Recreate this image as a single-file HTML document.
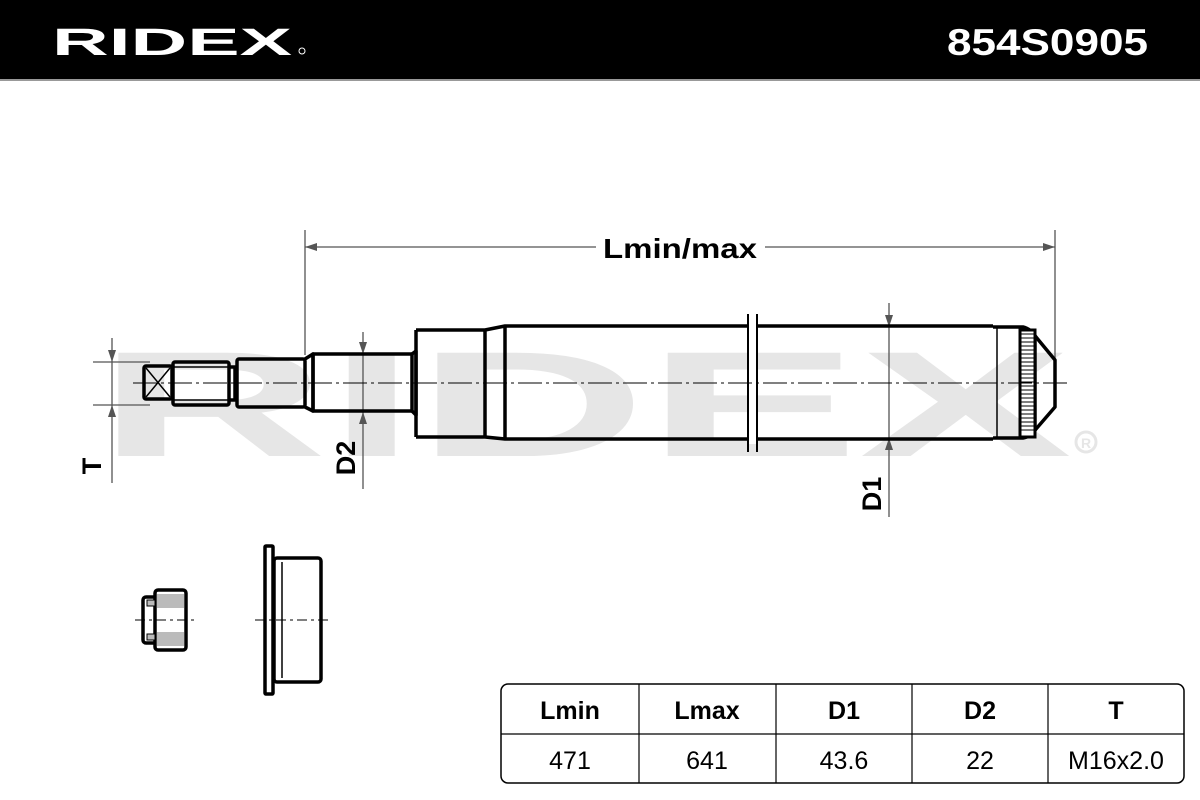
<!DOCTYPE html>
<html><head><meta charset="utf-8"><style>
html,body{margin:0;padding:0;background:#fff;}
svg{display:block;}
text{font-family:"Liberation Sans",sans-serif;}
</style></head><body>
<svg width="1200" height="800" viewBox="0 0 1200 800" xmlns="http://www.w3.org/2000/svg">
<rect x="0" y="0" width="1200" height="80" fill="#000"/>
<rect x="0" y="79" width="1200" height="2" fill="#999"/>
<text x="52" y="55" fill="#fff" font-size="38" font-weight="bold" textLength="240" lengthAdjust="spacingAndGlyphs">RIDEX</text>
<circle cx="302" cy="51" r="3" fill="none" stroke="#fff" stroke-width="1"/>
<text x="947" y="55" fill="#fff" font-size="37" font-weight="bold" textLength="201" lengthAdjust="spacingAndGlyphs">854S0905</text>

<!-- watermark -->
<text x="97" y="456" fill="#e6e6e6" font-size="150" font-weight="bold" textLength="975" lengthAdjust="spacingAndGlyphs">RIDEX</text>
<circle cx="1086" cy="442" r="10" fill="none" stroke="#e6e6e6" stroke-width="3"/>
<text x="1086" y="448" fill="#e6e6e6" font-size="14" font-weight="bold" text-anchor="middle">R</text>

<g stroke="#555" stroke-width="1.3" fill="#555">
<line x1="305" y1="230" x2="305" y2="355"/>
<line x1="1055" y1="230" x2="1055" y2="365"/>
<line x1="305" y1="247" x2="596" y2="247"/>
<line x1="765" y1="247" x2="1055" y2="247"/>
<path d="M305 247 l12 -4 v8z" stroke="none"/>
<path d="M1055 247 l-12 -4 v8z" stroke="none"/>
<line x1="93" y1="362" x2="150" y2="362"/>
<line x1="93" y1="405" x2="150" y2="405"/>
<line x1="112" y1="338" x2="112" y2="483"/>
<path d="M112 362 l-4 -12 h8z" stroke="none"/>
<path d="M112 405 l-4 12 h8z" stroke="none"/>
<line x1="363" y1="332" x2="363" y2="489"/>
<path d="M363 354 l-4 -12 h8z" stroke="none"/>
<path d="M363 412 l-4 12 h8z" stroke="none"/>
<line x1="889" y1="303" x2="889" y2="517"/>
<path d="M889 327 l-4 -12 h8z" stroke="none"/>
<path d="M889 438 l-4 12 h8z" stroke="none"/>
</g>
<text x="680" y="258" font-size="28" font-weight="bold" text-anchor="middle" textLength="154" lengthAdjust="spacingAndGlyphs">Lmin/max</text>
<text transform="translate(101,466) rotate(-90)" font-size="27" font-weight="bold" text-anchor="middle">T</text>
<text transform="translate(355,458) rotate(-90)" font-size="27" font-weight="bold" text-anchor="middle">D2</text>
<text transform="translate(881,494) rotate(-90)" font-size="27" font-weight="bold" text-anchor="middle">D1</text>

<g stroke="#000" stroke-width="3.5" fill="none" stroke-linejoin="round">
<rect x="144" y="366" width="28" height="33" rx="2"/>
<rect x="173" y="362" width="56" height="43" rx="2"/>
<path d="M229 367 h6 v33 h-6"/>
<rect x="237" y="359" width="68" height="48" rx="2"/>
<path d="M305 359 l8 -5 v57 l-8 -4"/>
<rect x="313" y="354" width="99" height="57"/>
<path d="M412 354 l4 -3 v64 l-4 -4"/>
<path d="M416 330 h69 l20 -4 h488 M416 437 h69 l20 2 h488"/>
<line x1="416" y1="330" x2="416" y2="437"/>
<line x1="485" y1="330" x2="485" y2="437"/>
<line x1="505" y1="326" x2="505" y2="439"/>
<path d="M993 327 h30 q8 2 13 10 l19 23 v47 l-19 22 q-5 8 -13 9 h-30"/>
</g>
<g stroke="#000" stroke-width="1.5" fill="none">
<line x1="146" y1="368" x2="170" y2="397"/><line x1="170" y1="368" x2="146" y2="397"/>
<line x1="173" y1="367" x2="229" y2="367"/><line x1="173" y1="400" x2="229" y2="400"/>
<line x1="997" y1="328" x2="997" y2="438"/>
<line x1="1036" y1="337" x2="1036" y2="429"/>
</g>
<rect x="1020" y="330" width="15" height="107" fill="#fff" stroke="#000" stroke-width="3"/>
<g stroke="#000" stroke-width="1">
<path d="M1020 334 h15 M1020 338 h15 M1020 342 h15 M1020 346 h15 M1020 350 h15 M1020 354 h15 M1020 358 h15 M1020 362 h15 M1020 366 h15 M1020 370 h15 M1020 374 h15 M1020 378 h15 M1020 382 h15 M1020 386 h15 M1020 390 h15 M1020 394 h15 M1020 398 h15 M1020 402 h15 M1020 406 h15 M1020 410 h15 M1020 414 h15 M1020 418 h15 M1020 422 h15 M1020 426 h15 M1020 430 h15"/>
</g>
<rect x="749" y="322" width="7" height="122" fill="#fff"/>
<line x1="748" y1="314" x2="748" y2="452" stroke="#000" stroke-width="2"/>
<line x1="757" y1="314" x2="757" y2="452" stroke="#000" stroke-width="2"/>
<line x1="133" y1="383" x2="1067" y2="383" stroke="#000" stroke-width="1" stroke-dasharray="24,4,3,4"/>

<g stroke="#000" stroke-width="3.5" fill="#fff" stroke-linejoin="round">
<rect x="143" y="597" width="14" height="46" rx="3"/>
<rect x="155" y="590" width="31" height="60" rx="3"/>
</g>
<rect x="157" y="594" width="27" height="14" fill="#bbb"/>
<rect x="157" y="632" width="27" height="14" fill="#bbb"/>
<rect x="147" y="600" width="8" height="6" fill="#bbb" stroke="#000"/>
<rect x="147" y="634" width="8" height="6" fill="#bbb" stroke="#000"/>
<line x1="135" y1="620" x2="195" y2="620" stroke="#000" stroke-width="1" stroke-dasharray="10,4,3,4"/>
<g stroke="#000" stroke-width="3.5" fill="#fff" stroke-linejoin="round">
<rect x="265" y="546" width="8" height="148" rx="1"/>
<rect x="274" y="558" width="47" height="124" rx="3"/>
</g>
<line x1="282" y1="562" x2="282" y2="678" stroke="#000" stroke-width="1.5"/>
<line x1="255" y1="620" x2="331" y2="620" stroke="#000" stroke-width="1" stroke-dasharray="10,4,3,4"/>

<rect x="501" y="684" width="683" height="99" rx="7" fill="#fff" stroke="#000" stroke-width="1.5"/>
<g stroke="#000" stroke-width="1.2">
<line x1="501" y1="734" x2="1184" y2="734"/>
<line x1="639" y1="684" x2="639" y2="783"/>
<line x1="776" y1="684" x2="776" y2="783"/>
<line x1="912" y1="684" x2="912" y2="783"/>
<line x1="1048" y1="684" x2="1048" y2="783"/>
</g>
<g font-size="25" text-anchor="middle">
<text x="570" y="719" font-weight="bold">Lmin</text>
<text x="707" y="719" font-weight="bold">Lmax</text>
<text x="844" y="719" font-weight="bold">D1</text>
<text x="980" y="719" font-weight="bold">D2</text>
<text x="1116" y="719" font-weight="bold">T</text>
<text x="570" y="769">471</text>
<text x="707" y="769">641</text>
<text x="844" y="769">43.6</text>
<text x="980" y="769">22</text>
<text x="1116" y="769">M16x2.0</text>
</g>
</svg>
</body></html>
